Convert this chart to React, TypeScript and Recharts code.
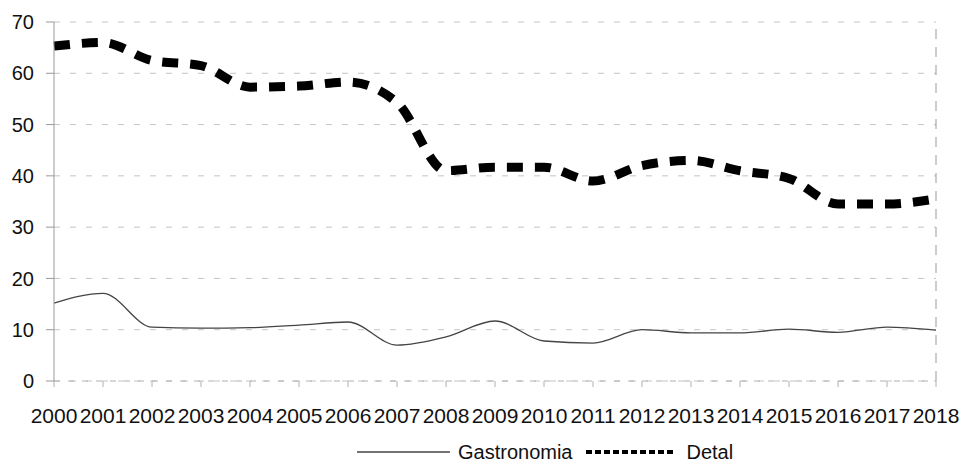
import { LineChart, Line, XAxis, YAxis, CartesianGrid, Legend, ReferenceLine } from "recharts";

const years = [
  "2000", "2001", "2002", "2003", "2004", "2005", "2006", "2007", "2008", "2009",
  "2010", "2011", "2012", "2013", "2014", "2015", "2016", "2017", "2018",
];
const gastronomia = [15.2, 17.1, 10.5, 10.3, 10.4, 10.9, 11.5, 7, 8.6, 11.7, 7.8, 7.4, 10, 9.4, 9.4, 10.1, 9.5, 10.5, 9.9];
const detal = [65.3, 66, 62.5, 61.5, 57.3, 57.5, 58.3, 54.3, 41, 41.7, 41.7, 39, 42, 43, 41, 39.5, 34.5, 34.5, 35.5];
const yTicks = [0, 10, 20, 30, 40, 50, 60, 70];

const data = years.map((year, i) => ({ year, gastronomia: gastronomia[i], detal: detal[i] }));

const FONT = "Arial, 'Liberation Sans', sans-serif";

function ChartLegend() {
  return (
    <div style={{ display: "flex", alignItems: "center", paddingLeft: 357, height: 30, fontFamily: FONT, fontSize: 20, color: "#111" }}>
      <svg width={93} height={12}>
        <line x1={0} y1={6} x2={93} y2={6} stroke="#444" strokeWidth={1.3} />
      </svg>
      <span style={{ marginLeft: 8 }}>Gastronomia</span>
      <svg width={88} height={12} style={{ marginLeft: 13 }}>
        <line x1={0} y1={6} x2={88} y2={6} stroke="#000" strokeWidth={4} strokeDasharray="6 3" />
      </svg>
      <span style={{ marginLeft: 13 }}>Detal</span>
    </div>
  );
}

export default function App() {
  return (
    <div style={{ width: 961, height: 471, background: "#fff" }}>
      <style>{"body{margin:0}"}</style>
      <LineChart width={961} height={471} data={data} margin={{ top: 22, right: 25, bottom: 15, left: 0 }}>
        <CartesianGrid vertical={false} stroke="#c4c4c4" strokeDasharray="6 10" />
        <XAxis
          dataKey="year"
          height={45}
          interval={0}
          stroke="#b0b0b0"
          strokeDasharray="6 8"
          tickSize={6}
          tickMargin={21}
          tick={{ fill: "#111", fontSize: 21, fontFamily: FONT }}
        />
        <YAxis
          domain={[0, 70]}
          ticks={yTicks}
          width={54}
          stroke="#999"
          tickSize={8}
          tickMargin={12}
          tick={{ fill: "#111", fontSize: 20, fontFamily: FONT }}
        />
        <ReferenceLine x="2018" stroke="#999" strokeDasharray="10 8" />
        <Legend verticalAlign="bottom" content={() => <ChartLegend />} wrapperStyle={{ top: 437, left: 0, width: 961 }} />
        <Line
          type="monotone"
          dataKey="gastronomia"
          name="Gastronomia"
          stroke="#444"
          strokeWidth={1.3}
          dot={false}
          isAnimationActive={false}
        />
        <Line
          type="monotone"
          dataKey="detal"
          name="Detal"
          stroke="#000"
          strokeWidth={9}
          strokeDasharray="16 12"
          dot={false}
          isAnimationActive={false}
        />
      </LineChart>
    </div>
  );
}
